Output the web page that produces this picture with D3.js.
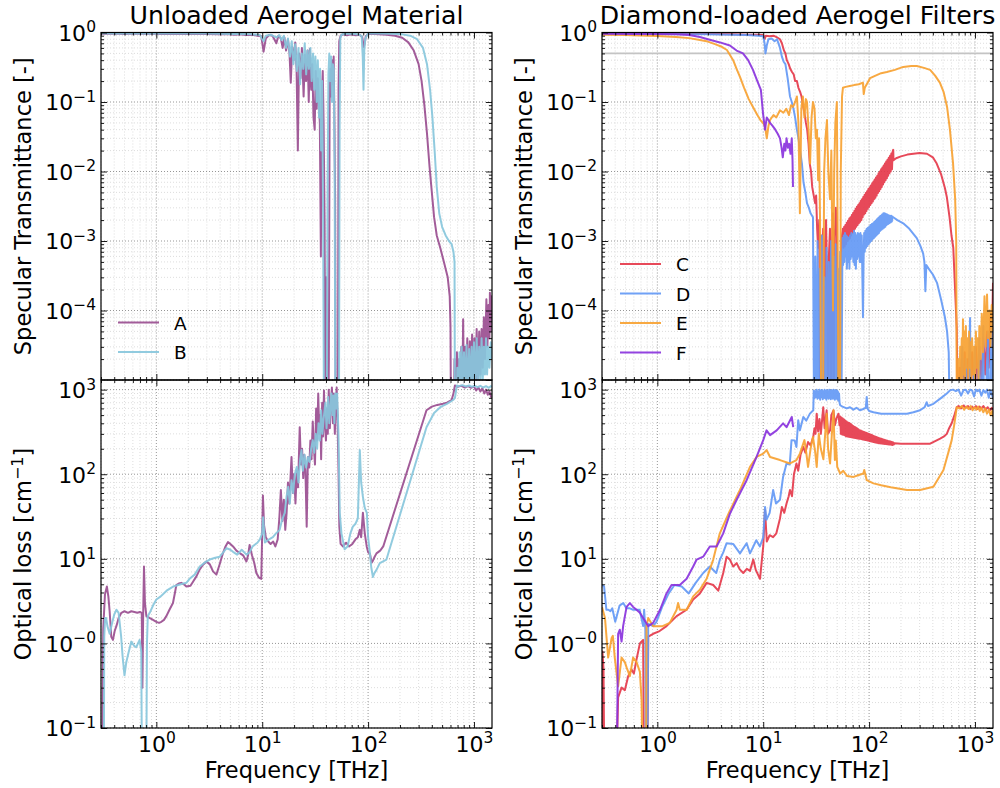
<!DOCTYPE html>
<html>
<head>
<meta charset="utf-8">
<script src="https://cdn.jsdelivr.net/npm/d3@7"></script>
<style>
  body { margin: 0; background: #fff; }
  svg text { font-family: "DejaVu Sans", sans-serif; fill: #000; }
</style>
</head>
<body>
<svg id="chart" width="1000" height="788"></svg>
<script>
// ---------------- data: [frequency THz, value] ----------------
// values far below the axis (1e-6 / 0.01) stand for "off the bottom of the plot"
const transA = [
  [0.3,0.96],[0.38,0.965],[0.5,0.955],[0.62,0.965],[0.75,0.96],[0.9,0.965],[1.1,0.955],[1.4,0.96],[1.8,0.955],[2.4,0.95],[3,0.955],[3.8,0.94],[4.6,0.95],[5.5,0.93],[6.2,0.94],[7,0.92],[8,0.93],[9,0.9],[9.8,0.88],[10.3,0.53],[10.8,0.82],[11.6,0.92],[12.5,0.9],[13.6,0.7],[14.2,0.9],[15,0.82],[15.6,0.6],[16.2,0.85],[16.8,0.55],[17.5,0.8],[18.1,0.5],[18.6,0.19],[19.2,0.62],[19.8,0.4],[20.5,0.72],[21.1,0.3],[21.7,0.02],[22.3,0.5],[23,0.22],[23.7,0.6],[24.6,0.12],[25.3,0.48],[26,0.2],[26.8,0.55],[27.5,0.1],[28.2,0.58],[29,0.15],[29.7,0.35],[30.5,0.06],[31.3,0.04],[32,0.28],[32.7,0.08],[33.5,0.22],[34.3,0.1],[35,0.05],[35.8,6e-4],[36.5,0.12],[37.3,0.28],[38,0.05],[38.8,0.002],[39.5,1e-6],[40.3,3e-4],[41.2,2e-5],[42,1e-6],[42.6,2e-5],[43.3,0.1],[44,0.3],[44.8,0.12],[45.6,0.4],[46.5,0.18],[47.3,0.45],[48.1,0.05],[48.8,0.004],[49.5,1e-6],[51.8,1e-6],[52.6,0.15],[53.4,0.75],[55,0.9],[58,0.94],[63,0.91],[69,0.94],[76,0.91],[83,0.93],[88,0.86],[91,0.62],[93,0.7],[95,0.88],[100,0.95],[115,0.95],[150,0.93],[180,0.9],[210,0.84],[240,0.72],[270,0.55],[300,0.35],[320,0.2],[340,0.09],[360,0.035],[380,0.012],[400,0.005],[420,0.0022],[445,0.0012],[480,8e-4],[520,5e-4],[565,3e-4],[590,1.6e-4],[600,6e-5],[608,1e-6],
  [640,1e-6],[655,2e-5],[670,1e-6],[690,2.5e-5],[705,4e-6],[725,2e-5],[740,5e-6],[760,3e-5],[775,5e-6],[790,7.5e-5],[805,6e-6],[825,3e-5],[845,7e-6],[865,4e-5],[885,6e-6],[915,3.6e-5],[935,8e-6],[960,4.5e-5],[985,7e-6],[1010,4e-5],[1035,9e-6],[1060,5.4e-5],[1090,8e-6],[1120,5e-5],[1150,1.2e-5],[1180,5.4e-5],[1210,1.5e-5],[1240,8e-5],[1270,2e-5],[1310,1.45e-4],[1340,3e-5],[1370,1.2e-4],[1400,4e-5],[1414,1.8e-4],[1440,5e-5],[1460,1.6e-4],[1480,7e-5]
];
const transB = [
  [0.3,0.975],[0.4,0.97],[0.55,0.975],[0.7,0.97],[0.9,0.975],[1.2,0.97],[1.6,0.97],[2.2,0.965],[3,0.965],[4,0.96],[5,0.955],[6.5,0.95],[8,0.94],[9.5,0.92],[10.3,0.75],[10.8,0.9],[12,0.93],[13.6,0.85],[14.5,0.92],[15.2,0.78],[16,0.9],[16.8,0.6],[17.5,0.82],[18.3,0.45],[19,0.75],[19.7,0.35],[20.5,0.68],[21.2,0.28],[22,0.6],[22.8,0.18],[23.6,0.5],[24.4,0.3],[25.2,0.7],[26,0.25],[26.8,0.55],[27.6,0.3],[28.5,0.6],[29.3,0.2],[30.2,0.5],[31,0.15],[31.8,0.45],[32.7,0.1],[33.5,0.4],[34.4,0.06],[35.2,0.3],[36,0.02],[36.8,0.2],[37.6,0.002],[38.4,1e-6],[40.6,1e-6],[41.4,0.004],[42.2,0.25],[43,0.5],[43.8,0.2],[44.7,0.45],[45.6,0.1],[46.5,0.35],[47.4,0.3],[48.3,0.01],[49.2,1e-6],[53,1e-6],[53.8,0.04],[54.6,0.82],[56,0.93],[60,0.96],[68,0.965],[76,0.95],[83,0.93],[87,0.88],[89,0.45],[90.5,0.15],[92,0.55],[94,0.8],[97,0.9],[100,0.97],[130,0.97],[170,0.96],[210,0.94],[250,0.9],[290,0.8],[330,0.6],[360,0.35],[385,0.15],[405,0.06],[425,0.02],[445,0.006],[470,0.0025],[500,0.0016],[540,0.0012],[580,0.001],[615,9e-4],[640,7e-4],[655,5e-4],[662,1e-6],
  [680,1e-6],[695,1.5e-5],[710,4e-6],[730,2.5e-5],[745,5e-6],[765,3e-5],[785,5e-6],[805,2.5e-5],[825,6e-6],[850,3.2e-5],[875,6e-6],[900,2.8e-5],[925,7e-6],[950,3e-5],[975,8e-6],[1000,3.5e-5],[1030,8e-6],[1060,4e-5],[1090,9e-6],[1120,3e-5],[1150,1e-5],[1180,4e-5],[1210,1e-5],[1240,3e-5],[1270,1.2e-5],[1300,4e-5],[1330,1.2e-5],[1360,3e-5],[1400,1.5e-5],[1440,3.5e-5],[1480,2e-5]
];
const transC = [
  [0.3,0.97],[0.6,0.965],[1,0.96],[2,0.955],[3,0.95],[5,0.94],[7,0.93],[9,0.93],[10,0.92],[10.3,0.8],[10.6,0.9],[11.5,0.88],[12.5,0.9],[13.5,0.85],[14.4,0.8],[15,0.7],[15.7,0.55],[16.2,0.5],[16.7,0.4],[17.4,0.35],[18,0.3],[18.7,0.27],[19.4,0.25],[20,0.2],[20.8,0.2],[21.5,0.16],[22.3,0.14],[23,0.12],[23.7,0.09],[24.5,0.07],[25.3,0.05],[26,0.04],[26.8,0.025],[27.5,0.013],[28.3,0.01],[29,0.006],[30,0.0045],[30.9,0.0035],[31.6,0.0045],[32.3,0.0015],[33,8e-4],[33.8,0.002],[34.5,1e-6],[35.3,0.0012],[36,4e-4],[36.8,0.0015],[37.6,1e-6],[38.4,9e-4],[39.2,0.002],[40,3e-4],[40.8,1e-6],[41.7,6e-4],[42.7,0.0015],[43.6,1e-6],[44.5,8e-4],[45.5,0.0025],[46.4,1e-6],[47.4,0.0011],[48.5,0.003],[49.6,0.0018],[50.6,1e-6],[52.5,1e-6],[53.5,4e-4],[55,0.0011],
  [56.6,0.0015],[57.4,0.0008],[58.2,0.0016],[59,0.00085],[59.8,0.0017],[60.6,0.0009],[61.5,0.00183],[62.4,0.001],[63.2,0.00195],[64.1,0.00105],[65,0.0021],[65.9,0.0011],[66.8,0.0022],[67.8,0.0012],[68.7,0.00237],[69.7,0.0013],[70.6,0.00253],[71.6,0.0014],[72.6,0.0027],[73.6,0.0015],[74.6,0.0029],[75.7,0.0016],[76.7,0.0031],[77.8,0.0017],[78.9,0.0033],[80,0.0018],[81.1,0.0035],[82.3,0.0019],[83.4,0.00375],[84.6,0.002],[85.7,0.004],[86.9,0.0022],[88.1,0.0043],[89.4,0.0024],[90.6,0.0046],[91.9,0.0025],[93.1,0.0049],[94.4,0.0027],[95.7,0.0052],[97.1,0.0029],[98.4,0.0056],[99.8,0.0031],[101.2,0.0059],[102.6,0.0033],[104,0.0063],[105.5,0.0035],[107,0.0068],[108.5,0.0037],[110,0.0072],[111.5,0.004],[113,0.0077],[114.6,0.0042],[116.2,0.0082],[117.8,0.0045],[119.5,0.0087],[121.2,0.0049],[122.9,0.0094],[124.6,0.0052],[126.3,0.01],[128.1,0.0056],[129.9,0.0108],[131.7,0.006],[133.5,0.0114],[135.4,0.0065],[137.3,0.0122],[139.2,0.007],[141.2,0.013],[143.1,0.0075],[145.1,0.0139],[147.2,0.008],[149.2,0.0148],[151.3,0.0087],[153.4,0.0158],[155.6,0.0094],[157.8,0.0168],[160,0.01],[162.2,0.0181],[164.5,0.0108],[166.8,0.0192],[169,0.0205],[170,0.0145],
  [180,0.0155],[200,0.0165],[230,0.0175],[262,0.018],[300,0.0185],[352,0.018],[400,0.016],[435,0.013],[480,0.009],[520,0.0058],[542,0.0043],[575,0.0022],[600,0.0012],[624,8e-4],[645,2.5e-4],[673,5.4e-5],[690,1e-6],
  [700,1e-6],[715,1.5e-5],[730,5e-6],[750,2e-5],[770,6e-6],[800,2.5e-5],[830,5e-6],[860,2e-5],[900,6e-6],[940,2.5e-5],[980,8e-6],[1020,3e-5],[1060,8e-6],[1100,3e-5],[1150,1e-5],[1200,4e-5],[1250,1.2e-5],[1300,5e-5],[1350,1.5e-5],[1400,8e-5],[1440,3e-5],[1480,2.5e-4]
];
const transD = [
  [0.3,0.955],[0.6,0.955],[1,0.95],[2,0.945],[3,0.94],[5,0.93],[7,0.92],[9,0.9],[10,0.88],[10.3,0.7],[10.5,0.5],[10.8,0.65],[11.2,0.8],[12,0.82],[12.8,0.75],[13.5,0.8],[14.4,0.6],[15,0.45],[15.6,0.38],[16.2,0.35],[17,0.22],[17.9,0.12],[18.6,0.1],[19.3,0.08],[20,0.06],[20.8,0.04],[21.5,0.03],[22.3,0.02],[23.2,0.013],[24,0.007],[25,0.005],[25.9,0.0035],[27,0.003],[28,0.0025],[29.5,0.0022],[30.3,1e-6],[31,6e-4],[31.8,1e-6],[32.6,1e-3],[33.4,1e-6],[34.2,4e-4],[35,1e-6],[35.9,1.2e-3],[36.8,1e-6],[37.7,3e-4],[38.6,1e-6],[39.6,8e-4],[40.6,1e-6],[41.6,5e-4],[42.6,1e-6],[43.7,1e-3],[44.8,1e-6],[46,6e-4],[47.1,1e-6],[48.3,9e-4],[49.5,1e-6],[50.8,4e-4],[52,1e-6],[53.3,7e-4],[54.6,1e-6],
  [56,1.1e-3],[56.8,4.5e-4],[57.6,1.2e-3],[58.4,5e-4],[59.2,1.3e-3],[60,6e-4],[60.8,1.2e-3],[61.7,4e-4],[62.5,1.15e-3],[63.4,5e-4],[64.3,1.1e-3],[65.2,4e-4],[66.1,1.2e-3],[67,5.5e-4],[68,1.3e-3],[69,6e-4],[70,1.25e-3],[71,5e-4],[72,1.4e-3],[73,4.5e-4],[74,1.3e-3],[75,4e-4],[76.1,1.2e-3],[77.2,5.5e-4],[78.3,1.3e-3],[79.4,6e-4],[80.5,1.25e-3],[81.6,5e-4],[82.8,1.3e-3],[84,5e-4],[85.2,1.2e-3],[86.4,3e-4],[87.5,8e-5],[88.6,5e-4],[89.8,1.3e-3],[91,7e-4],[92.3,1.4e-3],[93.6,8e-4],[94.9,1.5e-3],[96.2,8.5e-4],[97.6,1.55e-3],[99,9e-4],[100.4,1.6e-3],[101.8,9.5e-4],[103.2,1.7e-3],[104.7,1e-3],[106.2,1.75e-3],[107.7,1.05e-3],[109.2,1.8e-3],[110.7,1.1e-3],[112.3,1.9e-3],[113.9,1.15e-3],[115.5,1.95e-3],[117.1,1.2e-3],[118.7,2.05e-3],[120.4,1.25e-3],[122.1,2.15e-3],[123.8,1.3e-3],[125.5,2.25e-3],[127.3,1.4e-3],[129.1,2.3e-3],[130.9,1.45e-3],[132.7,2.4e-3],[134.6,1.5e-3],[136.5,2.5e-3],[138.4,1.55e-3],[140.4,2.5e-3],[142.4,1.6e-3],[144.4,2.45e-3],[146.4,1.7e-3],[148.5,2.4e-3],[150.6,1.75e-3],[152.7,2.35e-3],[154.8,1.8e-3],[157,2.3e-3],[159.2,1.85e-3],[161.5,2.3e-3],[163.8,1.9e-3],[166,2.25e-3],[169,2.2e-3],
  [185,2.0e-3],[210,1.8e-3],[240,1.5e-3],[282,1.1e-3],[305,8.5e-4],[324,6.6e-4],[333,5e-4],[340,1.9e-4],[347,4.5e-4],[365,4e-4],[400,3.3e-4],[438,2.5e-4],[480,1.4e-4],[520,8e-5],[545,5e-5],[565,2.5e-5],[582,1e-6],
  [700,1e-6],[760,3e-5],[775,1e-6],[820,2e-5],[840,1e-6],[899,7.8e-5],[915,1e-6],[1000,3e-5],[1020,1e-6],[1100,4e-5],[1120,1e-6],[1200,6e-5],[1220,1e-6],[1330,5e-5],[1350,1e-6],[1440,7e-5],[1470,1e-6]
];
const transE = [
  [0.3,0.93],[0.5,0.92],[0.8,0.9],[1,0.89],[1.5,0.86],[2,0.83],[2.52,0.78],[3,0.74],[3.5,0.68],[4,0.63],[4.54,0.56],[5.2,0.4],[5.6,0.3],[6.03,0.23],[6.6,0.16],[7.3,0.11],[8,0.085],[8.8,0.065],[9.4,0.055],[9.94,0.05],[10.4,0.045],[10.8,0.03],[11.2,0.045],[11.6,0.055],[12.5,0.065],[13.3,0.06],[14.4,0.076],[15.5,0.07],[16.5,0.08],[17.5,0.065],[18.3,0.09],[19.1,0.085],[20,0.1],[20.8,0.12],[21.5,0.05],[22.2,0.0025],[22.9,0.08],[23.7,0.12],[24.5,0.06],[25.3,0.11],[25.9,0.1],[26.8,0.04],[27.7,0.013],[28.6,0.06],[29.5,0.1],[30.5,0.08],[31.4,0.03],[32.2,0.04],[33,0.0075],[33.7,0.03],[34.4,0.002],[35.5,1e-6],[36.6,1e-6],[37.6,0.01],[38.7,0.03],[40,0.055],[41.2,0.01],[42.7,0.004],[44,0.02],[45.6,1e-4],[46.8,0.01],[48,0.05],[49.6,0.1],[50.5,0.001],[51.5,1e-6],[53,1e-6],[54,0.01],[55.5,0.12],[56.6,0.16],[60,0.165],[65.7,0.17],[72,0.175],[80,0.18],[87.4,0.19],[89,0.13],[91,0.16],[95,0.18],[102,0.22],[115,0.24],[130,0.26],[147,0.27],[175,0.29],[210,0.32],[250,0.33],[282,0.33],[330,0.31],[377,0.29],[420,0.24],[466,0.19],[505,0.14],[545,0.085],[580,0.04],[621,0.013],[650,0.004],[665,0.001],[675,1e-6],
  [690,1e-6],[700,2e-5],[712,6e-6],[725,3e-5],[738,8e-6],[750,4e-5],[760,1e-5],[770,7.5e-5],[782,1.2e-5],[795,5e-5],[808,1e-5],[820,6e-5],[835,1.5e-5],[850,4e-5],[865,1e-5],[880,5e-5],[895,1.5e-5],[910,3.5e-5],[925,1e-5],[940,4e-5],[960,1.2e-5],[980,3e-5],[1000,1e-5],[1020,5e-5],[1040,1.5e-5],[1060,4e-5],[1080,1e-5],[1100,6e-5],[1130,2e-5],[1160,9e-5],[1190,2.5e-5],[1230,1.6e-4],[1260,3e-5],[1300,1.7e-4],[1330,4e-5],[1370,1e-4],[1400,3e-5],[1440,1.2e-4],[1480,5e-5]
];
const transF = [
  [0.3,0.96],[0.6,0.955],[1,0.95],[1.5,0.94],[2,0.92],[2.52,0.86],[3,0.8],[3.9,0.72],[4.84,0.65],[5.6,0.55],[6.44,0.5],[7.2,0.4],[8,0.29],[8.8,0.2],[9.5,0.15],[9.94,0.07],[10.4,0.04],[10.8,0.06],[11.2,0.055],[11.6,0.05],[12.3,0.045],[13,0.04],[13.7,0.035],[14.4,0.03],[14.9,0.022],[15.3,0.016],[15.8,0.025],[16.2,0.02],[16.6,0.03],[17.1,0.022],[17.6,0.025],[18.1,0.018],[18.6,0.03],[18.9,0.015],[19.1,0.006]
];

const lossA = [
  [0.298,0.01],[0.305,0.01],[0.315,1.5],[0.327,3.8],[0.341,4.7],[0.352,3.6],[0.362,2.4],[0.375,1.2],[0.389,1.1],[0.404,1.4],[0.419,1.6],[0.44,2.0],[0.467,2.3],[0.5,2.4],[0.54,2.3],[0.58,2.4],[0.62,2.35],[0.66,2.3],[0.7,2.35],[0.728,2.3],[0.738,0.3],[0.75,2],[0.764,8.1],[0.78,3],[0.805,2.1],[0.86,2.0],[0.93,1.9],[1,1.8],[1.06,1.75],[1.115,1.8],[1.18,1.9],[1.243,2.1],[1.33,2.5],[1.435,3.0],[1.5,4],[1.545,4.9],[1.63,5.1],[1.72,5.2],[1.82,5.0],[1.92,4.7],[2.1,4.8],[2.25,5.5],[2.39,6.2],[2.57,7.5],[2.76,8.5],[2.97,9.3],[3.2,8.6],[3.43,7.1],[3.69,6.5],[3.95,8.5],[4.26,11.7],[4.5,14],[4.75,15.8],[5.0,15],[5.3,14],[5.7,12.5],[6.13,11.7],[6.6,11],[7.09,9.3],[7.35,11],[7.6,14.6],[8.0,11],[8.4,9],[8.8,6.8],[9.3,6],[9.8,5.8],[10.15,56],[10.4,25],[10.8,18],[11.4,16],[12,15],[12.7,16],[13.3,14],[14,17],[14.5,30],[15,65],[15.5,28],[16,50],[16.5,22],[17,35],[17.5,80],[18,45],[18.9,160],[19.5,60],[20,100],[20.6,45],[21.2,110],[21.8,70],[22.6,360],[23.2,130],[23.8,200],[24.4,90],[25,170],[25.6,110],[26.3,24],[27,160],[27.8,120],[28.5,250],[29.2,150],[30,420],[30.8,200],[31.5,130],[32.3,600],[33,250],[33.8,900],[34.6,300],[35.4,500],[36,150],[36.8,700],[37.5,280],[38.3,980],[39,400],[40,250],[40.8,600],[41.6,300],[42.5,1000],[43.5,350],[44.5,700],[45.5,1060],[46.5,400],[47.5,900],[48.5,300],[49.5,700],[50.5,1060],[51.5,400],[52.5,120],[53.5,24],[55,15],[58,14],[62,15.5],[66,14],[71,15],[76,17],[80,18],[83.5,22],[86,18],[89.3,35],[93,20],[97,14],[100,12],[104,11.5],[108,9],[111,9.5],[115,10.5],[120,11.6],[130,12.5],[139,14],[356,570],[400,630],[450,660],[510,680],[555,700],[614,750],[640,900],[661,1120],[700,1080],[760,1110],[820,1060],[880,1100],[940,1050],[1000,1090],[1050,980],[1100,1060],[1150,950],[1200,1040],[1250,900],[1300,1000],[1350,870],[1400,950],[1450,820],[1480,850]
];
const lossB = [
  [0.298,0.01],[0.318,0.01],[0.322,1.2],[0.328,2.0],[0.335,2.0],[0.345,1.6],[0.362,1.3],[0.38,1.7],[0.4,2.2],[0.42,2.5],[0.44,2.3],[0.465,1.2],[0.48,0.7],[0.5,0.42],[0.52,0.6],[0.545,0.77],[0.58,1.05],[0.62,0.93],[0.645,0.9],[0.695,1.1],[0.72,0.8],[0.735,0.01],[0.8,0.01],[0.815,1.0],[0.83,2.1],[0.865,2.3],[0.93,2.8],[1,3.3],[1.1,3.6],[1.25,4.2],[1.44,4.7],[1.7,5.0],[1.92,5.2],[2.06,5.8],[2.3,6.5],[2.57,8.1],[2.85,9],[3.19,9.8],[3.6,10.3],[3.97,10.6],[4.3,12],[4.6,13.4],[5.0,12.8],[5.3,12.1],[5.8,11.2],[6.4,12.8],[7.1,11.2],[7.6,12],[8.1,14],[9.0,15.5],[9.5,17],[10.0,20],[10.2,31],[10.6,15.6],[11.2,16.5],[12.6,18],[13.5,20],[14.6,22],[15.3,28],[16.3,35],[17,55],[17.6,71],[18.2,45],[18.9,85],[19.6,60],[20.3,100],[21.2,122],[22,80],[22.8,150],[23.5,193],[24.2,110],[25,170],[26,120],[27,160],[28,140],[29,200],[30,253],[31,180],[32,300],[33,200],[34,400],[35,250],[36,570],[37,300],[38,450],[39.5,700],[40.5,350],[42,820],[43,400],[44,600],[45,900],[46,500],[47,850],[48,400],[49,900],[50,600],[51,900],[52.5,300],[54,35],[56,20],[60,13],[64,14],[68,20],[71.8,24],[76,26],[80,30],[83.5,193],[86,80],[89.3,54],[93,40],[97.3,35],[100,18],[104,11.7],[107,8],[111,6.1],[115,6.8],[120,7.4],[129,8.9],[140,9.4],[149,9.8],[356,360],[420,530],[480,620],[555,680],[600,720],[640,760],[661,800],[689,1120],[720,1100],[780,1130],[840,1090],[900,1120],[960,1080],[1020,1110],[1080,1070],[1150,1110],[1220,1060],[1300,1100],[1380,1050],[1440,1100],[1480,1080]
];
const lossC = [
  [0.298,0.01],[0.3,0.01],[0.303,0.8],[0.31,0.5],[0.318,0.01],[0.4,0.01],[0.426,0.23],[0.459,0.3],[0.493,0.28],[0.53,0.41],[0.57,0.49],[0.6,0.44],[0.636,0.65],[0.684,1.0],[0.734,1.1],[0.75,0.01],[0.8,0.01],[0.82,1.2],[0.913,1.3],[1.05,1.4],[1.22,1.6],[1.52,2.1],[1.89,2.5],[2.18,3.3],[2.52,3.9],[2.92,5.2],[3.37,4.9],[3.76,4.2],[4.19,6.8],[4.51,10.6],[4.84,9.8],[5.21,8.1],[5.61,8.9],[6.0,7.5],[6.48,6.8],[7.0,7.6],[7.5,7.2],[8.05,9.8],[8.5,7.4],[9.32,5.8],[10.0,14],[10.4,38],[10.8,16],[11.5,19],[12.4,18],[13.3,20],[14.4,30],[15,41],[15.8,35],[16.6,45],[17.4,55],[17.9,65],[18.7,55],[19.5,100],[20.6,134],[21.4,110],[22.5,170],[23.9,210],[25,180],[26.5,240],[28,220],[29.7,276],[30.5,350],[31.2,300],[32,520],[33,320],[34,450],[35,300],[36.9,620],[38,350],[39.7,570],[41,300],[42.8,330],[44,500],[46.1,570],[47.5,380],[49,450],[51.4,520],[52.5,380],
  [53.3,480],[54.1,300],[54.8,470],[55.6,295],[56.4,455],[57.2,292],[58,445],[58.8,288],[59.6,430],[60.5,282],[61.3,420],[62.2,280],[63.1,410],[64,278],[64.9,402],[65.8,276],[66.7,395],[67.7,274],[68.6,385],[69.6,272],[70.6,372],[71.6,270],[72.6,365],[73.6,268],[74.7,358],[75.7,267],[76.8,350],[77.9,265],[79,340],[80.1,263],[81.2,332],[82.4,262],[83.5,328],[84.7,260],[85.9,322],[87.1,258],[88.4,318],[89.6,256],[90.9,314],[92.2,254],[93.5,310],[94.8,252],[96.1,305],[97.5,250],[98.9,300],[100.3,247],[101.7,296],[103.1,245],[104.6,292],[106.1,243],[107.6,288],[109.1,241],[110.6,284],[112.2,239],[113.8,280],[115.4,237],[117,276],[118.7,235],[120.4,272],[122.1,233],[123.8,268],[125.6,232],[127.4,265],[129.2,231],[131,262],[132.9,230],[134.7,259],[136.6,229],[138.6,256],[140.5,228],[142.5,253],[144.5,227],[146.6,250],[148.6,226],[150.7,248],[152.9,225],[155.1,246],[157.3,224],[159.5,244],[161.7,223],[164,241],[166.3,222],[168.7,238],[171.1,224],[173.5,232],
  [200,230],[262,230],[330,230],[377,230],[430,250],[469,264],[510,280],[542,300],[570,350],[603,400],[640,500],[673,620],[700,640],[740,600],[780,650],[820,610],[860,640],[900,590],[940,630],[980,600],[1020,640],[1060,590],[1100,630],[1150,600],[1200,640],[1260,580],[1320,620],[1380,570],[1440,610],[1490,570]
];
const lossD = [
  [0.3,4.9],[0.314,4.7],[0.33,2.5],[0.345,2.5],[0.36,2.4],[0.375,2.6],[0.4,1.8],[0.44,2.8],[0.476,3.0],[0.51,2.6],[0.55,2.6],[0.59,2.5],[0.64,2.5],[0.68,2.5],[0.734,1.6],[0.75,2.5],[0.77,1.45],[0.78,0.01],[0.8,0.01],[0.82,1.7],[0.91,1.6],[0.98,1.8],[1.11,2.7],[1.28,3.9],[1.45,4.9],[1.7,4.7],[1.98,3.9],[2.3,5.2],[2.71,6.8],[3.13,8.1],[3.6,6.8],[3.9,9.8],[4.2,12],[4.51,15.3],[5.2,15],[6.03,11.6],[6.97,15.3],[7.5,11.6],[8.6,16.6],[9.3,14],[10.0,18],[10.4,41],[10.75,29],[11.5,35],[12.4,65],[13.2,45],[14.4,50],[15.4,93],[16.6,134],[17.8,130],[18.5,253],[19.8,250],[20.6,210],[21.4,435],[22.2,330],[23.9,475],[25.5,430],[27.6,520],[29.7,570],
  [30,980],[30.5,790],[31,960],[31.5,820],[32,1000],[32.5,780],[33,950],[33.5,800],[34,1000],[34.5,760],[35,970],[35.5,820],[36,990],[36.5,770],[37,950],[37.5,800],[38,1000],[38.5,790],[39,960],[39.5,760],[40,990],[40.5,810],[41,950],[41.5,780],[42,1000],[42.5,800],[43,960],[43.5,770],[44,990],[44.5,820],[45,950],[45.5,780],[46,1000],[46.5,790],[47,960],[47.5,760],[48,990],[48.5,800],[49,950],[49.5,780],[50,980],[50.5,760],[51,940],[51.5,740],[52,900],[52.6,700],
  [53.3,654],[56,630],[61.5,600],[66,620],[71,580],[76,610],[82,570],[88,590],[93,610],[95,820],[96.5,600],[100,560],[110,540],[130,520],[147,520],[228,520],[262,540],[303,570],[335,620],[350,710],[360,640],[405,680],[480,800],[542,900],[581,980],[620,1000],[660,960],[700,1000],[740,850],[780,990],[820,1000],[860,900],[900,1000],[940,980],[980,830],[1020,1000],[1060,960],[1100,1000],[1150,850],[1200,990],[1250,920],[1300,1000],[1350,800],[1400,980],[1450,860],[1490,780]
];
const lossE = [
  [0.3,2.7],[0.32,2.0],[0.343,0.68],[0.37,1.16],[0.38,1.23],[0.396,0.68],[0.426,0.31],[0.459,0.68],[0.493,0.6],[0.512,0.52],[0.55,0.41],[0.59,0.68],[0.636,0.6],[0.684,0.46],[0.71,0.21],[0.734,0.01],[0.78,0.01],[0.79,1.6],[0.82,2.0],[0.913,1.6],[1.12,1.6],[1.31,1.75],[1.52,2.5],[1.57,3.0],[1.63,2.5],[1.89,2.5],[2.18,3.6],[2.52,4.3],[2.92,5.8],[3.37,9.8],[3.89,20],[4.84,37],[6.03,65],[7.5,122],[8.65,160],[10.0,175],[10.75,193],[11.6,160],[14.4,147],[17.9,134],[20.6,147],[22.2,175],[24.5,253],[25.5,180],[26.5,122],[28,200],[29.5,276],[31,180],[32,122],[33.5,300],[35,200],[37,150],[39.7,520],[41,200],[42.8,134],[44.5,300],[46.1,570],[47.5,147],[48.5,250],[50,122],[53.3,102],[57,110],[62,95],[71.2,93],[80,98],[88.3,102],[90,112],[92,100],[95,85],[110,78],[130,74],[160,70],[228,65],[303,65],[405,71],[504,112],[560,180],[603,253],[640,400],[673,620],[710,600],[750,640],[790,580],[830,630],[870,590],[910,640],[950,570],[990,620],[1030,580],[1070,630],[1110,560],[1150,610],[1200,540],[1250,600],[1300,520],[1350,580],[1400,500],[1450,560],[1490,475]
];
const lossF = [
  [0.3,0.01],[0.41,0.01],[0.426,1.3],[0.442,1.45],[0.459,1.05],[0.475,1.6],[0.512,2.7],[0.55,3.0],[0.59,2.7],[0.636,2.5],[0.684,2.3],[0.734,2.0],[0.82,1.6],[0.913,1.75],[1.06,2.5],[1.22,3.9],[1.36,4.9],[1.63,4.9],[1.89,5.8],[2.18,8.1],[2.35,9.8],[2.71,10.6],[3.13,14],[3.63,14],[4.19,20],[4.84,34],[5.61,50],[6.97,85],[8.65,160],[10.0,253],[10.75,330],[11.6,290],[13.4,330],[15.4,400],[16.6,360],[18.6,475],[19.2,360]
];

const leftNames = ['A', 'B'];
const rightNames = ['C', 'D', 'E', 'F'];
const colours = {A: '#9a4e90', B: '#88c7dc', C: '#e5394b', D: '#6499f5', E: '#f7a232', F: '#8a33dd'};

const freqDomain = [0.3, 1480];
const transDomain = [1e-5, 1];
const lossDomain = [0.1, 1300];

// ---------------- layout ----------------
const svg = d3.select('#chart');
const cols = [{x0: 101, x1: 492}, {x0: 602, x1: 993}];
const rows = [{y0: 32.5, y1: 380}, {y0: 380, y1: 728}];

function logTicks(domain) {
  const lo = domain[0], hi = domain[1];
  const major = [], minor = [];
  for (let e = Math.floor(Math.log10(lo)); e <= Math.ceil(Math.log10(hi)); e++) {
    for (let m = 1; m <= 9; m++) {
      const v = m * Math.pow(10, e);
      if (v < lo * 0.999 || v > hi * 1.001) continue;
      (m === 1 ? major : minor).push(v);
    }
  }
  return {major, minor};
}

// 10 with a superscript exponent
function powLabels(sel, minusZero) {
  sel.each(function(d) {
    const e = Math.round(Math.log10(d));
    const t = d3.select(this).text(null);
    t.append('tspan').text('10');
    const s = (e < 0 || (e === 0 && minusZero)) ? '\u2212' + Math.abs(e) : String(e);
    t.append('tspan').attr('dy', -8.5).attr('font-size', 15.5).text(s);
  });
}

let clipId = 0;
function drawPanel(col, row, yDomain, data, opts) {
  const x = d3.scaleLog().domain(freqDomain).range([col.x0, col.x1]);
  const y = d3.scaleLog().domain(yDomain).range([row.y1, row.y0]);
  const xt = logTicks(freqDomain), yt = logTicks(yDomain);
  const g = svg.append('g');

  // grid
  const grid = g.append('g');
  grid.selectAll('.gxm').data(xt.minor).join('line')
    .attr('x1', d => x(d)).attr('x2', d => x(d)).attr('y1', row.y0).attr('y2', row.y1)
    .attr('stroke', '#d4d4d4').attr('stroke-width', 0.8).attr('stroke-dasharray', '1,2');
  grid.selectAll('.gym').data(yt.minor).join('line')
    .attr('y1', d => y(d)).attr('y2', d => y(d)).attr('x1', col.x0).attr('x2', col.x1)
    .attr('stroke', '#d4d4d4').attr('stroke-width', 0.8).attr('stroke-dasharray', '1,2');
  grid.selectAll('.gxM').data(xt.major).join('line')
    .attr('x1', d => x(d)).attr('x2', d => x(d)).attr('y1', row.y0).attr('y2', row.y1)
    .attr('stroke', '#8a8a8a').attr('stroke-width', 0.9).attr('stroke-dasharray', '1,2');
  grid.selectAll('.gyM').data(yt.major).join('line')
    .attr('y1', d => y(d)).attr('y2', d => y(d)).attr('x1', col.x0).attr('x2', col.x1)
    .attr('stroke', '#8a8a8a').attr('stroke-width', 0.9).attr('stroke-dasharray', '1,2');

  const id = 'clip' + (clipId++);
  svg.append('clipPath').attr('id', id).append('rect')
    .attr('x', col.x0).attr('y', row.y0).attr('width', col.x1 - col.x0).attr('height', row.y1 - row.y0);
  const plot = g.append('g').attr('clip-path', `url(#${id})`);

  if (opts.refLine) {
    plot.append('line')
      .attr('x1', col.x0).attr('x2', col.x1).attr('y1', y(opts.refLine)).attr('y2', y(opts.refLine))
      .attr('stroke', '#c4c4c4').attr('stroke-width', 1.6);
  }

  const line = d3.line().x(d => x(d[0])).y(d => y(d[1]));
  opts.names.forEach(n => {
    plot.append('path').datum(data[n])
      .attr('d', line)
      .attr('fill', 'none')
      .attr('stroke', colours[n])
      .attr('stroke-width', 2)
      .attr('stroke-opacity', 0.92)
      .attr('stroke-linejoin', 'round');
  });

  // frame
  g.append('rect').attr('x', col.x0).attr('y', row.y0)
    .attr('width', col.x1 - col.x0).attr('height', row.y1 - row.y0)
    .attr('fill', 'none').attr('stroke', '#000').attr('stroke-width', 1.2);

  // ticks (all pointing inward)
  const tidy = a => {
    a.select('.domain').remove();
    a.attr('font-family', '"DejaVu Sans", sans-serif').attr('font-size', 22);
    a.selectAll('.tick line').attr('stroke', '#000').attr('stroke-width', 0.9);
  };

  const bottom = g.append('g').attr('transform', `translate(0,${row.y1})`)
    .call(d3.axisBottom(x).tickValues(xt.major).tickSize(-6).tickPadding(8)).call(tidy);
  if (opts.xLabels) bottom.selectAll('.tick text').call(powLabels, false);
  else bottom.selectAll('.tick text').remove();
  g.append('g').attr('transform', `translate(0,${row.y1})`)
    .call(d3.axisBottom(x).tickValues(xt.minor).tickSize(-3).tickFormat('')).call(tidy);
  g.append('g').attr('transform', `translate(0,${row.y0})`)
    .call(d3.axisTop(x).tickValues(xt.major).tickSize(-6).tickFormat('')).call(tidy);
  g.append('g').attr('transform', `translate(0,${row.y0})`)
    .call(d3.axisTop(x).tickValues(xt.minor).tickSize(-3).tickFormat('')).call(tidy);

  const left = g.append('g').attr('transform', `translate(${col.x0},0)`)
    .call(d3.axisLeft(y).tickValues(opts.yLabels).tickSize(-6).tickPadding(5)).call(tidy);
  left.selectAll('.tick text').attr('dy', '0.36em').call(powLabels, opts.minusZero);
  g.append('g').attr('transform', `translate(${col.x0},0)`)
    .call(d3.axisLeft(y).tickValues(yt.minor).tickSize(-3).tickFormat('')).call(tidy);
  g.append('g').attr('transform', `translate(${col.x1},0)`)
    .call(d3.axisRight(y).tickValues(yt.major).tickSize(-6).tickFormat('')).call(tidy);
  g.append('g').attr('transform', `translate(${col.x1},0)`)
    .call(d3.axisRight(y).tickValues(yt.minor).tickSize(-3).tickFormat('')).call(tidy);

  // legend
  if (opts.legend) {
    const lg = g.append('g');
    opts.names.forEach((n, i) => {
      const ly = opts.legend.y + i * 29.5;
      lg.append('line').attr('x1', opts.legend.x).attr('x2', opts.legend.x + 41)
        .attr('y1', ly).attr('y2', ly)
        .attr('stroke', colours[n]).attr('stroke-width', 2).attr('stroke-opacity', 0.92);
      lg.append('text').attr('x', opts.legend.x + 56).attr('y', ly + 7)
        .attr('font-size', 18.5).text(n);
    });
  }
}

const transLabels = [1, 1e-1, 1e-2, 1e-3, 1e-4];
const lossLabels = [1000, 100, 10, 1, 0.1];
const dataAll = {
  trans: {A: transA, B: transB, C: transC, D: transD, E: transE, F: transF},
  loss: {A: lossA, B: lossB, C: lossC, D: lossD, E: lossE, F: lossF}
};

drawPanel(cols[0], rows[0], transDomain, dataAll.trans,
  {names: leftNames, yLabels: transLabels, legend: {x: 118, y: 322.5}});
drawPanel(cols[1], rows[0], transDomain, dataAll.trans,
  {names: rightNames, yLabels: transLabels, legend: {x: 620, y: 264}, refLine: 0.5});
drawPanel(cols[0], rows[1], lossDomain, dataAll.loss,
  {names: leftNames, yLabels: lossLabels, xLabels: true, minusZero: true});
drawPanel(cols[1], rows[1], lossDomain, dataAll.loss,
  {names: rightNames, yLabels: lossLabels, xLabels: true, minusZero: true});

// titles and axis labels
const titles = ['Unloaded Aerogel Material', 'Diamond-loaded Aerogel Filters'];
cols.forEach((c, i) => {
  const cx = (c.x0 + c.x1) / 2;
  svg.append('text').attr('x', cx).attr('y', 23.5).attr('text-anchor', 'middle')
    .attr('font-size', 25.2).text(titles[i]);
  svg.append('text').attr('x', cx).attr('y', 778).attr('text-anchor', 'middle')
    .attr('font-size', 22.5).text('Frequency [THz]');

  const lx = c.x0 - 70;
  const ty = (rows[0].y0 + rows[0].y1) / 2;
  svg.append('text').attr('transform', `translate(${lx},${ty}) rotate(-90)`)
    .attr('text-anchor', 'middle').attr('font-size', 22.5).text('Specular Transmittance [-]');
  const by = (rows[1].y0 + rows[1].y1) / 2;
  const t = svg.append('text').attr('transform', `translate(${lx},${by}) rotate(-90)`)
    .attr('text-anchor', 'middle').attr('font-size', 22.5);
  t.append('tspan').text('Optical loss [cm');
  t.append('tspan').attr('dy', -8.5).attr('font-size', 16).text('\u22121');
  t.append('tspan').attr('dy', 8.5).text(']');
});
</script>
</body>
</html>
